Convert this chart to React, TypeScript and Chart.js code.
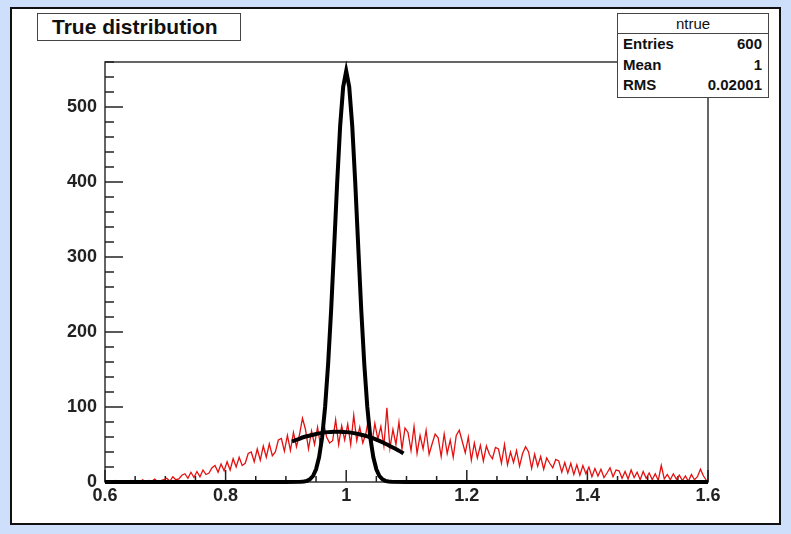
import React, { useEffect, useRef } from "react";
import { Chart, registerables } from "chart.js";

Chart.register(...registerables);

// ---- Data ----
const redBinStart = 0.6;
const redBinWidth = 0.005;
const redCounts: number[] = [
  0, 1, 0, 2, 0, 0, 1, 0, 2, 0,
  1, 0, 3, 0, 2, 1, 4, 0, 2, 3,
  5, 1, 7, 3, 4, 9, 11, 5, 13, 6,
  14, 7, 16, 10, 12, 19, 22, 13, 24, 15,
  27, 16, 31, 20, 33, 22, 25, 38, 40, 27,
  44, 29, 48, 33, 51, 35, 40, 56, 58, 41,
  62, 42, 66, 47, 63, 85, 70, 44, 68, 50,
  73, 48, 79, 60, 52, 55, 83, 50, 75, 56,
  77, 50, 89, 55, 73, 52, 64, 87, 51, 78,
  57, 74, 48, 99, 45, 70, 50, 80, 44, 72,
  66, 42, 74, 38, 62, 44, 69, 37, 51, 64,
  59, 34, 64, 38, 56, 33, 62, 69, 54, 39,
  60, 29, 52, 32, 49, 28, 48, 37, 31, 46,
  44, 25, 50, 23, 40, 26, 42, 21, 38, 47,
  40, 18, 37, 21, 34, 17, 32, 25, 19, 30,
  28, 13, 26, 12, 25, 10, 23, 9, 22, 11,
  20, 7, 18, 8, 17, 6, 12, 19, 7, 16,
  15, 5, 14, 4, 16, 6, 13, 3, 14, 5,
  12, 3, 11, 2, 22, 4, 10, 3, 11, 4,
  9, 2, 8, 1, 10, 3, 7, 17, 8, 2,
];

const peakX: number[] = [
  0.6, 0.9, 0.925, 0.93, 0.935, 0.94, 0.945, 0.95, 0.955, 0.96, 0.965, 0.97, 0.975, 0.98, 0.985, 0.99, 0.995,
  1.0, 1.005, 1.01, 1.015, 1.02, 1.025, 1.03, 1.035, 1.04, 1.045, 1.05, 1.055, 1.06, 1.065, 1.07, 1.075, 1.1, 1.6,
];
const peakY: number[] = [
  0, 0, 0.2, 0.6, 1.5, 3.7, 8, 17, 33, 59, 100, 157, 229, 313, 399, 475, 527,
  548, 527, 475, 399, 313, 229, 157, 100, 59, 33, 17, 8, 3.7, 1.5, 0.6, 0.2, 0, 0,
];

const fitX: number[] = [
  0.91, 0.92, 0.93, 0.94, 0.95, 0.96, 0.97, 0.98, 0.99, 1.0,
  1.01, 1.02, 1.03, 1.04, 1.05, 1.06, 1.07, 1.08, 1.09, 1.095,
];
const fitY: number[] = [
  54, 57, 60, 62, 64, 65.5, 66.5, 67, 67, 66.5,
  65.5, 64, 62, 59.5, 56.5, 53, 49, 45, 40.5, 38,
];

const xMajorTicks: number[] = [0.6, 0.8, 1.0, 1.2, 1.4, 1.6];
const yMajorTicks: number[] = [0, 100, 200, 300, 400, 500];

const statsName = "ntrue";
const statsRows: [string, string][] = [
  ["Entries", "600"],
  ["Mean", "1"],
  ["RMS", "0.02001"],
];
const titleText = "True distribution";

const FONT = "'Liberation Sans', Arial, Helvetica, sans-serif";

const framePlugin = {
  id: "rootFrame",
  beforeDatasetsDraw(chart: any) {
    const { ctx, chartArea } = chart;
    const xs = chart.scales.x;
    const ys = chart.scales.y;
    const { left, right, top, bottom } = chartArea;
    ctx.save();
    ctx.strokeStyle = "#333";
    ctx.lineWidth = 1.5;
    ctx.strokeRect(left, top, right - left, bottom - top);
    ctx.strokeStyle = "#222";
    ctx.lineWidth = 1.5;
    for (let i = 0; i <= 20; i++) {
      const v = 0.6 + i * 0.05;
      const px = xs.getPixelForValue(v);
      const major = i % 4 === 0;
      const len = major ? 12 : 6;
      ctx.beginPath();
      ctx.moveTo(px, bottom);
      ctx.lineTo(px, bottom - len);
      ctx.stroke();
    }
    for (let v = 0; v <= 560; v += 20) {
      const py = ys.getPixelForValue(v);
      const major = v % 100 === 0;
      const len = major ? 18 : 9;
      ctx.beginPath();
      ctx.moveTo(left, py);
      ctx.lineTo(left + len, py);
      ctx.stroke();
    }
    ctx.restore();
  },
};

export default function App() {
  const canvasRef = useRef<HTMLCanvasElement | null>(null);

  useEffect(() => {
    document.body.style.margin = "0";
    const canvas = canvasRef.current;
    if (!canvas) return;
    const redData = redCounts.map((c, i) => ({ x: redBinStart + (i + 0.5) * redBinWidth, y: c }));
    const peakData = peakX.map((x, i) => ({ x, y: peakY[i] }));
    const fitData = fitX.map((x, i) => ({ x, y: fitY[i] }));
    const chart = new Chart(canvas, {
      type: "line",
      data: {
        datasets: [
          {
            data: peakData,
            borderColor: "#000",
            borderWidth: 4,
            pointRadius: 0,
            tension: 0,
            fill: false,
            clip: 10,
            order: 0,
          },
          {
            data: fitData,
            borderColor: "#000",
            borderWidth: 4,
            pointRadius: 0,
            tension: 0.3,
            fill: false,
            order: 1,
          },
          {
            data: redData,
            borderColor: "#e41010",
            borderWidth: 1.3,
            pointRadius: 0,
            tension: 0,
            fill: false,
            clip: 10,
            order: 2,
          },
        ],
      },
      options: {
        responsive: false,
        animation: false,
        devicePixelRatio: 1,
        layout: { padding: { left: 0, top: 62, right: 83, bottom: 0 } },
        plugins: { legend: { display: false }, tooltip: { enabled: false }, title: { display: false } },
        scales: {
          x: {
            type: "linear",
            min: 0.6,
            max: 1.6,
            afterFit: (s: any) => {
              s.height = 52;
            },
            afterBuildTicks: (s: any) => {
              s.ticks = xMajorTicks.map((v) => ({ value: v }));
            },
            ticks: {
              autoSkip: false,
              maxRotation: 0,
              padding: 3,
              color: "#222",
              font: { family: FONT, size: 18, weight: "bold" },
              callback: (v: any) => String(Math.round(Number(v) * 10) / 10),
            },
            grid: { display: false, drawTicks: false },
            border: { display: false },
          },
          y: {
            type: "linear",
            min: 0,
            max: 560,
            afterFit: (s: any) => {
              s.width = 105;
            },
            afterBuildTicks: (s: any) => {
              s.ticks = yMajorTicks.map((v) => ({ value: v }));
            },
            ticks: {
              padding: 8,
              color: "#222",
              font: { family: FONT, size: 18, weight: "bold" },
            },
            grid: { display: false, drawTicks: false },
            border: { display: false },
          },
        },
      },
      plugins: [framePlugin],
    } as any);
    return () => chart.destroy();
  }, []);

  return (
    <div style={{ position: "relative", width: 791, height: 534, background: "#cddffa", overflow: "hidden" }}>
      <div
        style={{
          position: "absolute",
          left: 10,
          top: 7,
          width: 767,
          height: 514,
          background: "#fff",
          border: "2px solid #111",
        }}
      />
      <canvas ref={canvasRef} width={791} height={534} style={{ position: "absolute", left: 0, top: 0 }} />
      <div
        style={{
          position: "absolute",
          left: 37,
          top: 13,
          width: 188,
          height: 26,
          background: "#fff",
          border: "1.5px solid #444",
          fontFamily: FONT,
          fontWeight: "bold",
          fontSize: 21,
          lineHeight: "26px",
          color: "#111",
          paddingLeft: 14,
          boxSizing: "content-box",
          whiteSpace: "nowrap",
        }}
      >
        {titleText}
      </div>
      <div
        style={{
          position: "absolute",
          left: 617,
          top: 13,
          width: 150,
          height: 83,
          background: "#fff",
          border: "1.5px solid #444",
          fontFamily: FONT,
          color: "#111",
        }}
      >
        <div
          style={{
            height: 19,
            lineHeight: "19px",
            textAlign: "center",
            fontSize: 15,
            borderBottom: "1.5px solid #444",
          }}
        >
          {statsName}
        </div>
        {statsRows.map(([k, v]) => (
          <div
            key={k}
            style={{
              display: "flex",
              justifyContent: "space-between",
              height: 20.5,
              lineHeight: "20.5px",
              fontSize: 15,
              fontWeight: "bold",
              padding: "0 6px 0 5px",
            }}
          >
            <span>{k}</span>
            <span>{v}</span>
          </div>
        ))}
      </div>
    </div>
  );
}
